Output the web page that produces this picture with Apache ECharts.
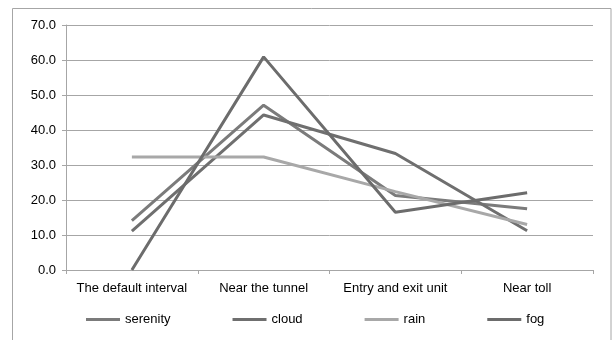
<!DOCTYPE html>
<html><head><meta charset="utf-8">
<script src="https://cdn.jsdelivr.net/npm/echarts@6/dist/echarts.min.js"></script>
<style>html,body{margin:0;padding:0;background:#fff}#c{width:613px;height:340px}</style>
</head><body><div id="c"></div>
<script>
const categories = ["The default interval", "Near the tunnel", "Entry and exit unit", "Near toll"];
const serenity = [14.1, 47.1, 21.3, 17.5];
const cloud = [11.1, 44.3, 33.3, 11.2];
const rain = [32.3, 32.3, 22.4, 13.0];
const fog = [0.0, 60.9, 16.5, 22.1];
const yTicks = { min: 0, max: 70, interval: 10 };

const font = "Liberation Sans";
const chart = echarts.init(document.getElementById('c'), null, { renderer: 'canvas' });
function s(name, data, color) {
  return { name, type: 'line', data, symbol: 'none', smooth: false,
    lineStyle: { width: 3, color }, itemStyle: { color } };
}
chart.setOption({
  animation: false,
  backgroundColor: '#fff',
  graphic: [{ type: 'rect', shape: { x: 12.5, y: 8.5, width: 598.5, height: 340 },
    style: { fill: 'none', stroke: '#a6a6a6', lineWidth: 1 }, silent: true }],
  grid: { left: 66, right: 20, top: 25, bottom: 70, containLabel: false },
  legend: { bottom: 9, left: 81, itemWidth: 34, itemHeight: 3, itemGap: 62,
    icon: 'rect', textStyle: { fontFamily: font, fontSize: 13, color: '#000' },
    data: ['serenity', 'cloud', 'rain', 'fog'] },
  xAxis: { type: 'category', data: categories, boundaryGap: true,
    axisLine: { lineStyle: { color: '#a6a6a6', width: 1 } },
    axisTick: { show: true, length: 4, lineStyle: { color: '#a6a6a6' } },
    axisLabel: { fontFamily: font, fontSize: 13, color: '#000', margin: 12, interval: 0 } },
  yAxis: { type: 'value', min: yTicks.min, max: yTicks.max, interval: yTicks.interval,
    axisLine: { show: true, lineStyle: { color: '#a6a6a6' } },
    axisTick: { show: true, length: 4, lineStyle: { color: '#a6a6a6' } },
    splitLine: { lineStyle: { color: '#a6a6a6', width: 1 } },
    axisLabel: { fontFamily: font, fontSize: 13, color: '#000', margin: 10,
      formatter: v => v.toFixed(1) } },
  series: [
    s('serenity', serenity, '#7b7b7b'),
    s('cloud', cloud, '#6f6f6f'),
    s('rain', rain, '#a8a8a8'),
    s('fog', fog, '#6c6c6c')
  ]
});
</script></body></html>
